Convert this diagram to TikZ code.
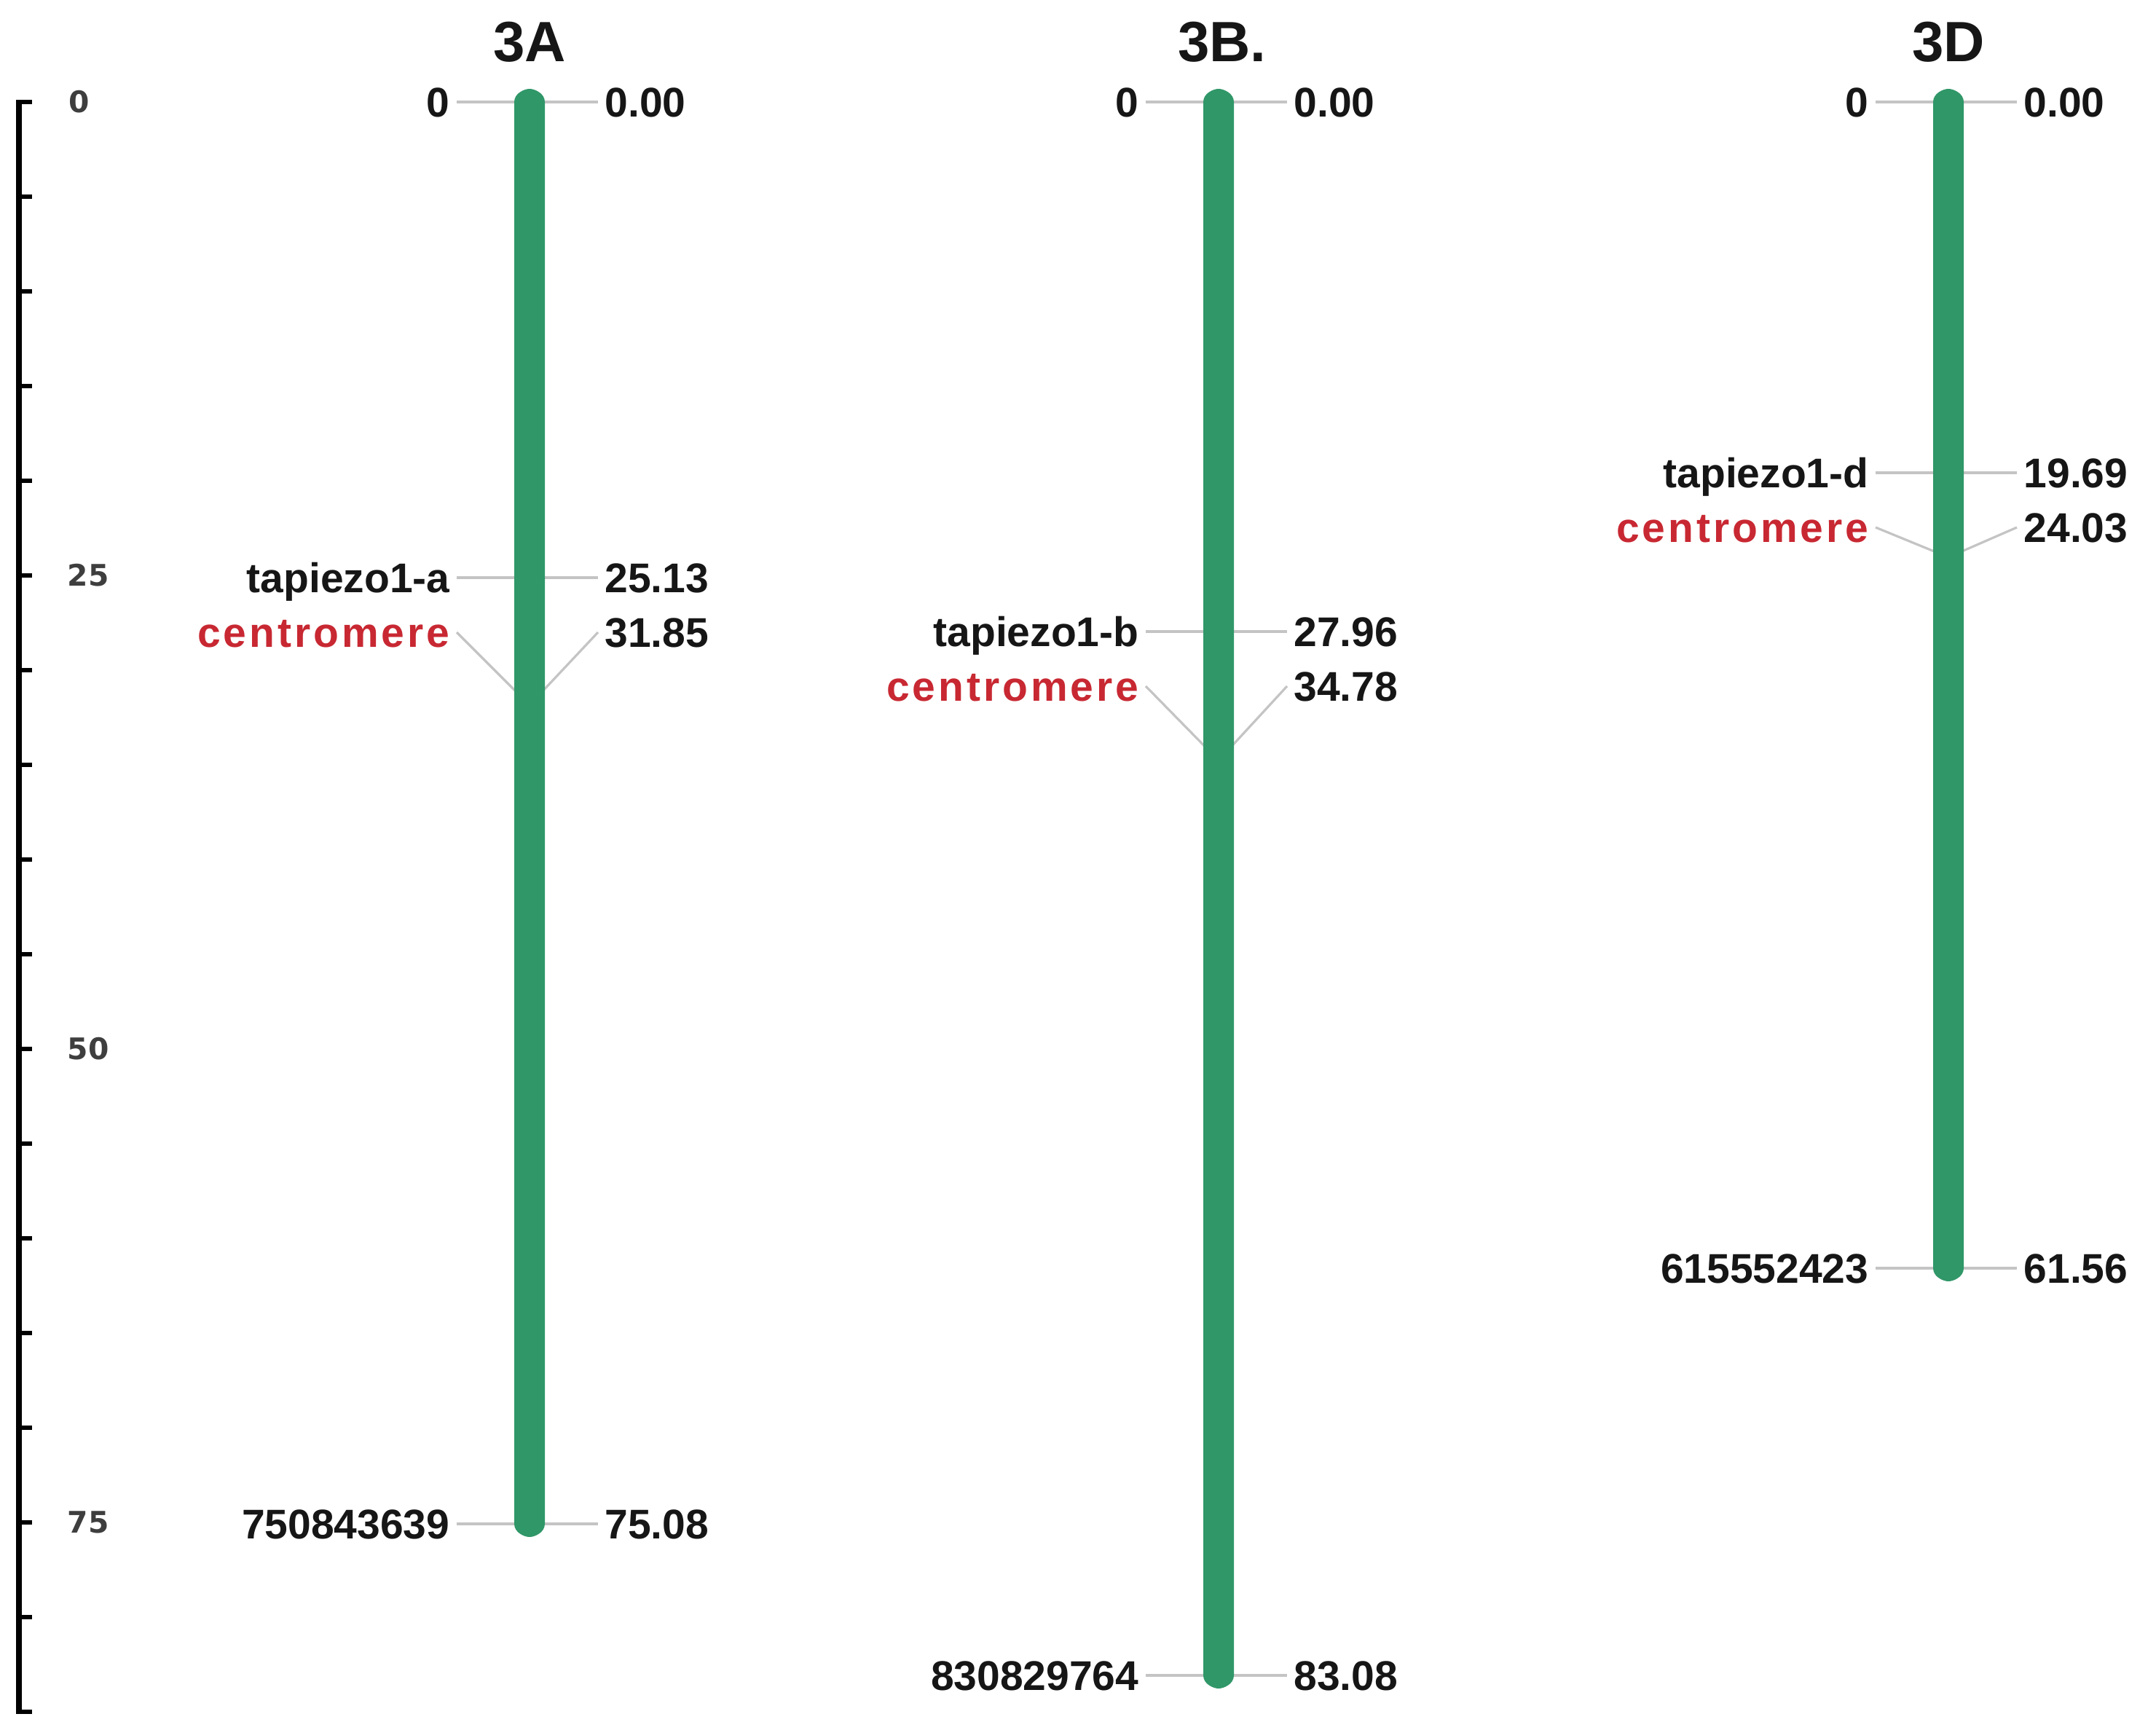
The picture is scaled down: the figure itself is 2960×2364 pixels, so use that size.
\documentclass[tikz,border=0pt]{standalone}
\usepackage{fontspec}
\setmainfont{Liberation Sans}
\newfontfamily\rulerfont{DejaVu Sans}
\definecolor{chrgreen}{RGB}{48,151,104}
\definecolor{linkgray}{RGB}{196,196,196}
\definecolor{cenred}{RGB}{200,40,50}
\definecolor{txtblack}{RGB}{22,22,22}
\definecolor{rulergray}{RGB}{62,62,62}
\begin{document}
\begin{tikzpicture}[x=0.25pt,y=-0.25pt,
  mlab/.style={font=\fontsize{14.25pt}{14.25pt}\selectfont\bfseries, text=txtblack,
    inner sep=0pt, outer sep=2.4pt, text height=10.2pt, text depth=0pt},
  labL/.style={mlab, anchor=east},
  labR/.style={mlab, anchor=west},
  cenlab/.style={text=cenred, font=\fontsize{14.25pt}{14.25pt}\selectfont\bfseries\addfontfeature{LetterSpace=7}},
  chrtitle/.style={font=\fontsize{19.5pt}{19.5pt}\selectfont\bfseries, text=txtblack,
    inner sep=0pt, text height=14pt, text depth=0pt},
  linkline/.style={draw=linkgray, line width=0.8pt},
  rulerline/.style={draw=black, line width=2pt},
  tickline/.style={draw=black, line width=1.3pt},
  rlab/.style={font=\rulerfont\fontsize{10.2pt}{10.2pt}\selectfont\bfseries, text=rulergray,
    anchor=west, inner sep=0pt, text height=7.4pt, text depth=0pt}
]
\useasboundingbox (0,0) rectangle (2960,2364);

% ---------- ruler ----------
\draw[rulerline] (26,138) -- (26,2352);
\foreach \i in {0,...,17} \draw[tickline] (22,{140+130*\i}) -- (44,{140+130*\i});
\node[rlab] (r0)  at (94,140)  {0};
\node[rlab] (r25) at (92,790)  {25};
\node[rlab] (r50) at (92,1440) {50};
\node[rlab] (r75) at (92,2090) {75};

% ---------- 3A ----------
\node[chrtitle] (tA) at (727,57) {3A};
\coordinate (Acen) at (727,968);
\node[labL] (A0l)  at (627,140)  {0};
\node[labR] (A0r)  at (821,140)  {0.00};
\node[labL] (Atl)  at (627,793)  {tapiezo1-a};
\node[labR] (Atr)  at (821,793)  {25.13};
\node[labL,cenlab] (Acl) at (627,868) {centromere};
\node[labR] (Acr)  at (821,868)  {31.85};
\node[labL] (Ael)  at (627,2092) {750843639};
\node[labR] (Aer)  at (821,2092) {75.08};
\draw[linkline] (A0l) -- (A0r);
\draw[linkline] (Atl) -- (Atr);
\draw[linkline] (Ael) -- (Aer);
\draw[linkline] (Acl.east) -- (Acen) -- (Acr.west);

% ---------- 3B ----------
\node[chrtitle] (tB) at (1667,57) {3B\rlap{.}};
\coordinate (Bcen) at (1673,1044);
\node[labL] (B0l)  at (1573,140)  {0};
\node[labR] (B0r)  at (1767,140)  {0.00};
\node[labL] (Btl)  at (1573,867)  {tapiezo1-b};
\node[labR] (Btr)  at (1767,867)  {27.96};
\node[labL,cenlab] (Bcl) at (1573,942) {centromere};
\node[labR] (Bcr)  at (1767,942)  {34.78};
\node[labL] (Bel)  at (1573,2300) {830829764};
\node[labR] (Ber)  at (1767,2300) {83.08};
\draw[linkline] (B0l) -- (B0r);
\draw[linkline] (Btl) -- (Btr);
\draw[linkline] (Bel) -- (Ber);
\draw[linkline] (Bcl.east) -- (Bcen) -- (Bcr.west);

% ---------- 3D ----------
\node[chrtitle] (tD) at (2675,57) {3D};
\coordinate (Dcen) at (2675,765);
\node[labL] (D0l)  at (2575,140)  {0};
\node[labR] (D0r)  at (2769,140)  {0.00};
\node[labL] (Dtl)  at (2575,649)  {tapiezo1-d};
\node[labR] (Dtr)  at (2769,649)  {19.69};
\node[labL,cenlab] (Dcl) at (2575,724) {centromere};
\node[labR] (Dcr)  at (2769,724)  {24.03};
\node[labL] (Del)  at (2575,1741) {615552423};
\node[labR] (Der)  at (2769,1741) {61.56};
\draw[linkline] (D0l) -- (D0r);
\draw[linkline] (Dtl) -- (Dtr);
\draw[linkline] (Del) -- (Der);
\draw[linkline] (Dcl.east) -- (Dcen) -- (Dcr.west);

% ---------- chromosome bars ----------
\foreach \c/\e in {727/2092, 1673/2300, 2675/1741} {
  \fill[chrgreen] ({\c-21},140) .. controls ({\c-21},128) and ({\c-7},122) .. (\c,122)
    .. controls ({\c+7},122) and ({\c+21},128) .. ({\c+21},140)
    -- ({\c+21},\e) .. controls ({\c+21},{\e+12}) and ({\c+7},{\e+18}) .. (\c,{\e+18})
    .. controls ({\c-7},{\e+18}) and ({\c-21},{\e+12}) .. ({\c-21},\e) -- cycle;
}
\end{tikzpicture}
\end{document}
